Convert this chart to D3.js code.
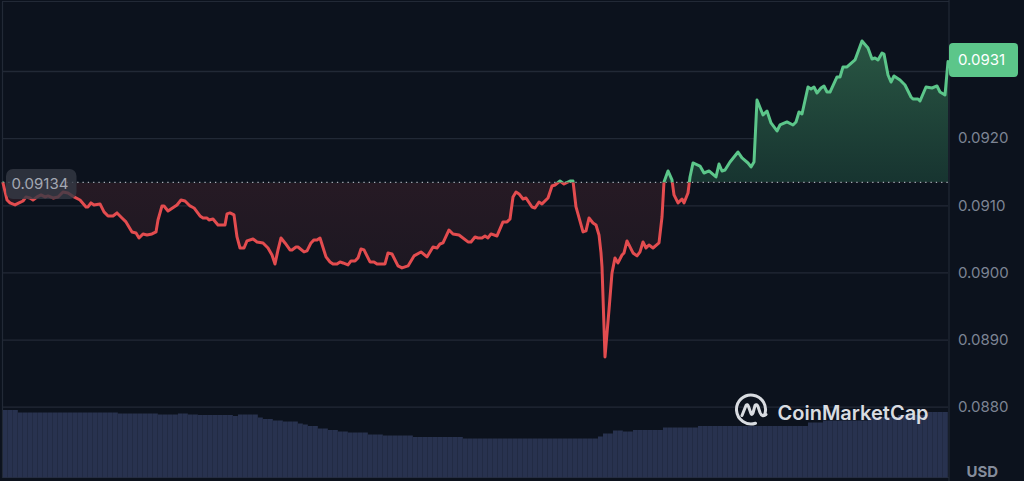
<!DOCTYPE html>
<html>
<head>
<meta charset="utf-8">
<script src="https://cdn.jsdelivr.net/npm/d3@7"></script>
<style>
html,body{margin:0;padding:0;background:#0c121d;overflow:hidden}
svg{display:block}
text{font-family:Inter,"Noto Sans",sans-serif}
</style>
</head>
<body>
<svg id="chart" width="1024" height="481"></svg>
<script>
// Offset of each sample along the time axis
const offsets = [0,4,7,12,16,20,23,27,30,34,38,42,45,50,55,60,65,71,77,83,85,88,91,97,101,105,110,114,119,123,129,133,136,140,144,149,153,155,159,161,165,174,178,182,187,191,197,200,204,206,210,215,222,224,227,231,234,237,241,244,250,254,260,265,269,272,275,278,282,287,289,293,295,301,304,308,311,314,317,323,327,330,334,337,340,345,348,352,355,358,361,367,371,374,382,385,389,395,399,405,411,418,424,430,434,437,440,446,450,456,465,468,472,475,479,482,485,488,494,500,504,507,510,513,516,520,523,529,532,536,539,545,549,552,557,561,567,570,573,580,583,586,590,593,596,598,599,602,606,609,612,615,619,621,624,630,634,637,640,643,646,650,656,659,661,665,669,671,675,679,681,685,687,690,697,701,706,713,716,719,722,727,735,739,745,748,751,754,760,764,768,774,777,784,790,793,796,799,805,808,811,814,818,821,824,827,834,837,840,844,852,859,865,869,872,875,879,881,885,888,891,897,902,908,910,915,917,923,929,934,937,942,945];

// USD price at each sample
const prices = [0.091332,0.091079,0.091035,0.091005,0.091035,0.091064,0.091124,0.091109,0.091079,0.091124,0.091154,0.091124,0.091139,0.091109,0.091124,0.091198,0.091183,0.091124,0.091079,0.090975,0.090975,0.091035,0.091005,0.09102,0.090901,0.090841,0.090841,0.090886,0.090811,0.090752,0.090603,0.090588,0.090513,0.090573,0.090558,0.090573,0.090603,0.090781,0.09099,0.09099,0.090915,0.091005,0.091079,0.091064,0.09099,0.09096,0.090841,0.090811,0.090811,0.090781,0.090796,0.090707,0.090707,0.090871,0.090886,0.090856,0.090528,0.090364,0.090364,0.090469,0.090498,0.090454,0.090439,0.090364,0.09026,0.090126,0.090335,0.090513,0.090439,0.090335,0.090335,0.090379,0.090379,0.090305,0.09032,0.090439,0.090484,0.090484,0.090513,0.090231,0.090156,0.090126,0.090126,0.090156,0.090141,0.090111,0.090171,0.090171,0.090216,0.09035,0.090335,0.090156,0.090156,0.090126,0.090126,0.09029,0.090275,0.090097,0.090067,0.090097,0.090246,0.090305,0.090231,0.090379,0.090364,0.090424,0.090439,0.090632,0.090573,0.090558,0.090454,0.090454,0.090528,0.090513,0.090513,0.090543,0.090513,0.090573,0.090543,0.090752,0.090752,0.090796,0.091124,0.091198,0.091169,0.091094,0.091109,0.090975,0.09096,0.091049,0.09102,0.091109,0.091288,0.091302,0.091362,0.091317,0.091362,0.091362,0.090975,0.090603,0.090618,0.090811,0.090737,0.090707,0.090558,0.09029,0.090082,0.088741,0.089441,0.089992,0.090216,0.090141,0.09026,0.09029,0.090469,0.09029,0.090246,0.090305,0.090454,0.090364,0.090409,0.090364,0.090439,0.090826,0.091347,0.091511,0.091377,0.091154,0.091035,0.091094,0.091035,0.091183,0.091422,0.09163,0.091585,0.091481,0.091511,0.091422,0.091615,0.091511,0.091526,0.091645,0.091794,0.091705,0.09163,0.091571,0.091645,0.092568,0.092345,0.092404,0.092226,0.092107,0.092196,0.092241,0.092196,0.092241,0.09239,0.09236,0.092762,0.092732,0.092762,0.092672,0.092747,0.092777,0.092687,0.092687,0.092911,0.092911,0.09306,0.09306,0.093164,0.093447,0.093342,0.093179,0.093194,0.093164,0.093268,0.093253,0.09294,0.092836,0.092926,0.092866,0.092792,0.092613,0.092583,0.092583,0.092553,0.092762,0.092747,0.092777,0.092687,0.092643,0.09314];

// Trading volume, held constant up to each run's end offset
const volumeRunEnds = [14,117,154,175,185,197,230,233,254,262,271,280,293,300,305,315,325,334,347,366,379,410,459,597,602,610,620,630,661,697,804,822,863,897,927,945];
const volumeRuns = [135,130,128,126,128,126,125,123,126,120,117,114,112,108,106,103,98,95,92,90,86,84,81,78,82,88,94,92,95,100,103,110,114,121,125,131];

const priceTicks = [0.088,0.089,0.09,0.091,0.092,0.093];
const openPrice = 0.09134;
const axisUnit = "USD";
const brandName = "CoinMarketCap";

const GRID = "#222936", RED = "#e34c4f", GREEN = "#5cc68a";
const svg = d3.select("#chart");
const left = 3, right = 948;

const x = d3.scaleLinear().domain([0, 945]).range([left, right]);
const y = d3.scaleLinear().domain([0.088, 0.093]).range([406.7, 71]);
const yVol = d3.scaleLinear().domain([0, 135]).range([477.5, 410]);

const series = offsets.map((t, i) => ({t, p: prices[i]}));
const baseY = y(openPrice);

// Gradients and clip regions split the series at the opening price
const defs = svg.append("defs");
const addGrad = (id, y1, y2, stops) => {
  const g = defs.append("linearGradient").attr("id", id)
    .attr("gradientUnits", "userSpaceOnUse")
    .attr("x1", 0).attr("x2", 0).attr("y1", y1).attr("y2", y2);
  stops.forEach(([o, c]) => g.append("stop").attr("offset", o).attr("stop-color", c));
};
addGrad("upFill", y(d3.max(prices)), baseY, [[0, "#295643"], [1, "#173430"]]);
addGrad("downFill", baseY, y(d3.min(prices)), [[0, "#261a24"], [1, "#131520"]]);
defs.append("clipPath").attr("id", "above").append("rect")
  .attr("x", 0).attr("y", 0).attr("width", right + 2).attr("height", baseY);
defs.append("clipPath").attr("id", "below").append("rect")
  .attr("x", 0).attr("y", baseY).attr("width", right + 2).attr("height", 481 - baseY);

// Frame
const frame = svg.append("g").attr("stroke", GRID).attr("stroke-width", 1.2).attr("fill", "none");
frame.append("path").attr("d", `M2.5,2V477.5H${right + 1}`);
frame.append("path").attr("d", `M2,1.5H${right + 1}M${right + 1},0V481`);

// Price gridlines and tick labels
const axis = svg.append("g").attr("transform", `translate(${right},0)`)
  .call(d3.axisRight(y).tickValues(priceTicks).tickFormat(d3.format(".4f")).tickSize(-(right - left)).tickPadding(10));
axis.select(".domain").remove();
axis.selectAll(".tick line").attr("stroke", GRID).attr("stroke-width", 1.3);
axis.selectAll(".tick text").attr("fill", "#7d8494").attr("font-size", 15)
  .attr("font-family", 'Inter,"Noto Sans",sans-serif');
axis.selectAll(".tick").filter(d => d === 0.093).select("text").remove();

// Volume bars
const step = 5;
const bars = d3.range(0, 945, step).map(t => ({
  t, v: volumeRuns[Math.min(d3.bisectLeft(volumeRunEnds, t + step / 2), volumeRuns.length - 1)]
}));
svg.append("g").selectAll("rect").data(bars).join("rect")
  .attr("x", d => x(d.t)).attr("width", d => x(d.t + step) - x(d.t) - 0.2)
  .attr("y", d => yVol(d.v)).attr("height", d => yVol(0) - yVol(d.v))
  .attr("fill", "#28324f");

// Shaded areas between the price and the opening level
const area = d3.area().x(d => x(d.t)).y0(baseY).y1(d => y(d.p));
const line = d3.line().x(d => x(d.t)).y(d => y(d.p));
svg.append("path").attr("d", area(series)).attr("fill", "url(#upFill)").attr("clip-path", "url(#above)");
svg.append("path").attr("d", area(series)).attr("fill", "url(#downFill)").attr("clip-path", "url(#below)");

// Opening price level
svg.append("line").attr("x1", left).attr("x2", right).attr("y1", baseY).attr("y2", baseY)
  .attr("stroke", "#a9aeb8").attr("stroke-width", 1.3)
  .attr("stroke-dasharray", "1.3 4").attr("stroke-linecap", "butt");

// Price line, coloured by side of the opening level
[["above", GREEN], ["below", RED]].forEach(([clip, color]) => {
  svg.append("path").attr("d", line(series)).attr("fill", "none")
    .attr("stroke", color).attr("stroke-width", 3)
    .attr("stroke-linejoin", "round").attr("stroke-linecap", "round")
    .attr("clip-path", `url(#${clip})`);
});

// Opening price tag
svg.append("rect").attr("x", 6).attr("y", baseY - 13.5).attr("width", 70.5).attr("height", 30).attr("rx", 7)
  .attr("fill", "#353a45").attr("fill-opacity", 0.8);
svg.append("text").attr("x", 11.5).attr("y", baseY + 1.5).attr("dy", "0.36em")
  .attr("font-size", 15).attr("fill", "#a3a8b3").text(openPrice.toFixed(5));

// Latest price tag
const lastPrice = prices[prices.length - 1];
svg.append("rect").attr("x", 949).attr("y", 43).attr("width", 69).attr("height", 34).attr("rx", 4).attr("fill", GREEN);
svg.append("text").attr("x", 958).attr("y", 60).attr("dy", "0.36em")
  .attr("font-size", 15).attr("fill", "#ffffff").text(lastPrice.toFixed(4));

// Currency label
svg.append("text").attr("x", 966.5).attr("y", 472).attr("dy", "0.36em")
  .attr("font-size", 15).attr("font-weight", 700).attr("fill", "#858c9b").text(axisUnit);

// Brand mark
const mark = svg.append("g").attr("transform", "translate(751,409.5)")
  .attr("fill", "none").attr("stroke", "#d9dce1").attr("stroke-width", 3).attr("stroke-linecap", "round").attr("stroke-linejoin", "round");
mark.append("path").attr("d", d3.arc()({innerRadius: 14.5, outerRadius: 14.5, startAngle: Math.PI * 0.9, endAngle: Math.PI * 2.62}));
mark.append("path").attr("d", "M-9,6 L-5,-4 Q-3.5,-6 -2.5,-3 L0,4 Q1,6 2,3.5 L4,-4 Q5.5,-6 7,-3 L9,3 Q11,8 15,5");
svg.append("text").attr("x", 777.5).attr("y", 412.5).attr("dy", "0.36em")
  .attr("font-size", 20).attr("font-weight", 600).attr("fill", "#d9dce1")
  .attr("font-family", 'Lato,"Noto Sans",sans-serif').text(brandName);
</script>
</body>
</html>
